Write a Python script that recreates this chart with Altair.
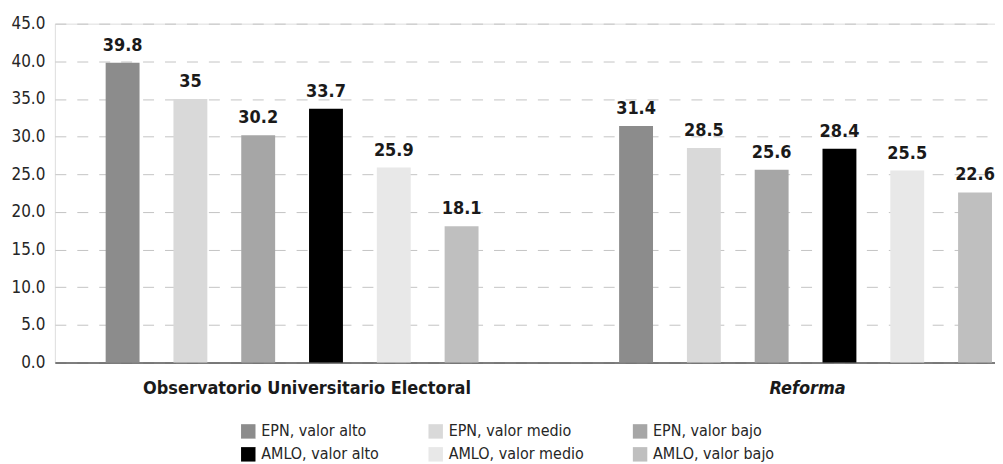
import altair as alt
import pandas as pd

groups = ["Observatorio Universitario Electoral", "Reforma"]
series = ["EPN, valor alto", "EPN, valor medio", "EPN, valor bajo",
          "AMLO, valor alto", "AMLO, valor medio", "AMLO, valor bajo"]
obs_values = [39.8, 35, 30.2, 33.7, 25.9, 18.1]
ref_values = [31.4, 28.5, 25.6, 28.4, 25.5, 22.6]
colors = ["#8c8c8c", "#d9d9d9", "#a6a6a6", "#000000", "#e8e8e8", "#bfbfbf"]
y_ticks = [0, 5, 10, 15, 20, 25, 30, 35, 40, 45]

rows = []
for g, vals in zip(groups, [obs_values, ref_values]):
    for i, (s, v) in enumerate(zip(series, vals)):
        rows.append({"grupo": g, "serie": s, "orden": i, "valor": v})
df = pd.DataFrame(rows)

FONT = "DejaVu Sans Condensed"

base = alt.Chart(df).encode(
    x=alt.X(
        "grupo:N", sort=groups, title=None,
        scale=alt.Scale(paddingInner=0.2738, paddingOuter=0.0524, align=0.944),
        axis=alt.Axis(
            labelAngle=0, ticks=False, domain=True, domainColor="#595959", domainWidth=1.5,
            labelFont=FONT, labelFontSize=18, labelFontWeight="bold", labelColor="#1a1a1a",
            labelPadding=17, labelBaseline="top", labelLimit=0,
            labelOffset={"condition": {"test": "datum.value == 'Reforma'", "value": 2}, "value": 15},
            labelFontStyle={"condition": {"test": "datum.value == 'Reforma'", "value": "italic"},
                            "value": "normal"},
        ),
    ),
    xOffset=alt.XOffset("serie:N", sort=series,
                        scale=alt.Scale(paddingInner=0.5, paddingOuter=0)),
    y=alt.Y("valor:Q", title=None,
            scale=alt.Scale(domain=[0, 45], nice=False),
            axis=alt.Axis(values=y_ticks, format=".1f", domain=False, ticks=False,
                          labelFont=FONT, labelFontSize=17, labelColor="#262626",
                          labelPadding=10, labelOverlap=False, grid=True, gridColor="#c4c4c4",
                          gridDash=[11, 11], gridWidth=1)),
)

bars = base.mark_bar().encode(
    color=alt.Color("serie:N", sort=series, title=None,
                    scale=alt.Scale(domain=series, range=colors),
                    legend=alt.Legend(orient="none", legendX=186, legendY=401,
                                      direction="horizontal",
                                      columns=3, symbolType="square", symbolSize=210,
                                      symbolStrokeWidth=0, labelFont=FONT, labelFontSize=16,
                                      labelColor="#262626", rowPadding=7, columnPadding=48,
                                      symbolOffset=0, labelOffset=5, padding=0)),
)

labels = base.mark_text(
    baseline="bottom", dy=-8, font=FONT, fontSize=18, fontWeight="bold", color="#1a1a1a"
).encode(
    text=alt.Text("valor:Q", format=".3~g"),
)

chart = alt.layer(bars, labels).properties(
    width=943, height=340,
    padding={"left": 2, "top": 6, "right": 0, "bottom": 0},
).configure_view(stroke=None).configure(background="white")

chart.save("out.html", embed_options={"renderer": "svg", "actions": False})
